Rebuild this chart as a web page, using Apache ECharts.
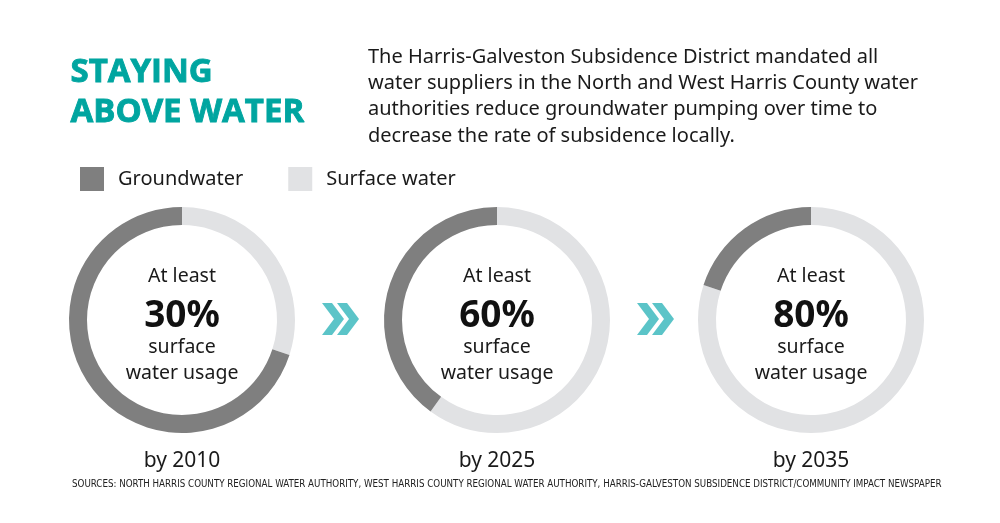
<!DOCTYPE html>
<html>
<head>
<meta charset="utf-8">
<script src="https://cdn.jsdelivr.net/npm/echarts@6/dist/echarts.min.js"></script>
<style>
  html, body { margin: 0; padding: 0; background: #fff; }
  #main { width: 1000px; height: 523px; }
</style>
</head>
<body>
<div id="main"></div>
<script>
// data
const years = ['2010', '2025', '2035'];
const surfacePct = [30, 60, 80];
const groundPct = [70, 40, 20];
const names = ['Groundwater', 'Surface water'];
const colors = { 'Groundwater': '#7f7f7f', 'Surface water': '#e1e2e4' };

const centersX = [182, 497, 811];
const centerY = 320;
const font = '"Noto Sans", "Open Sans", sans-serif';

const chart = echarts.init(document.getElementById('main'));

const series = years.map((y, i) => ({
    type: 'pie',
    center: [centersX[i], centerY],
    radius: [95, 113],
    startAngle: 90,
    clockwise: true,
    silent: true,
    avoidLabelOverlap: false,
    labelLine: { show: false },
    data: [
        {
            name: 'Surface water', value: surfacePct[i],
            itemStyle: { color: colors['Surface water'] },
            label: {
                show: true,
                position: 'center',
                formatter: '{a|At least}\n{b|' + surfacePct[i] + '%}\n{c|surface}\n{c|water usage}',
                rich: {
                    a: { fontFamily: font, fontSize: 19.5, color: '#1a1a1a', lineHeight: 44 },
                    b: { fontFamily: font, fontSize: 37, fontWeight: 'bold', color: '#111', lineHeight: 36 },
                    c: { fontFamily: font, fontSize: 19.5, color: '#1a1a1a', lineHeight: 26 }
                }
            }
        },
        {
            name: 'Groundwater', value: groundPct[i],
            itemStyle: { color: colors['Groundwater'] },
            label: { show: false }
        }
    ]
}));

// chevron graphic
function chevron(x) {
    return {
        type: 'polygon',
        shape: { points: [[x, 303], [x + 10, 303], [x + 22, 319], [x + 10, 335], [x, 335], [x + 12, 319]] },
        style: { fill: '#5bc4c8' }
    };
}

const graphic = [
    { type: 'text', left: 70, top: 53, style: { text: 'STAYING\nABOVE WATER', font: 'bold 33px "Open Sans", sans-serif', fill: '#00a5a0', stroke: '#00a5a0', lineWidth: 0.9, lineHeight: 40 } },
    { type: 'text', left: 368, top: 44, style: {
        text: 'The Harris-Galveston Subsidence District mandated all\nwater suppliers in the North and West Harris County water\nauthorities reduce groundwater pumping over time to\ndecrease the rate of subsidence locally.',
        font: '20px ' + font, fill: '#1a1a1a', lineHeight: 26.3 } },
    { type: 'text', left: 72, top: 479, style: {
        text: 'SOURCES: NORTH HARRIS COUNTY REGIONAL WATER AUTHORITY, WEST HARRIS COUNTY REGIONAL WATER AUTHORITY, HARRIS-GALVESTON SUBSIDENCE DISTRICT/COMMUNITY IMPACT NEWSPAPER',
        font: '9.7px "Liberation Sans Narrow", "DejaVu Sans Condensed", sans-serif', fill: '#222' } },
    chevron(322), chevron(337), chevron(637), chevron(652)
];
years.forEach((y, i) => {
    graphic.push({ type: 'text', x: centersX[i], y: 461, style: { text: 'by ' + y, font: '21px ' + font, fill: '#1a1a1a', align: 'center', verticalAlign: 'middle' } });
});

const option = {
    animation: false,
    legend: {
        data: names,
        left: 80,
        top: 167,
        padding: 0,
        icon: 'rect',
        itemWidth: 24,
        itemHeight: 24,
        itemGap: 45,
        selectedMode: false,
        textStyle: { fontFamily: font, fontSize: 20, color: '#1a1a1a', padding: [0, 0, 0, 9] }
    },
    graphic: graphic,
    series: series
};
chart.setOption(option);
</script>
</body>
</html>
